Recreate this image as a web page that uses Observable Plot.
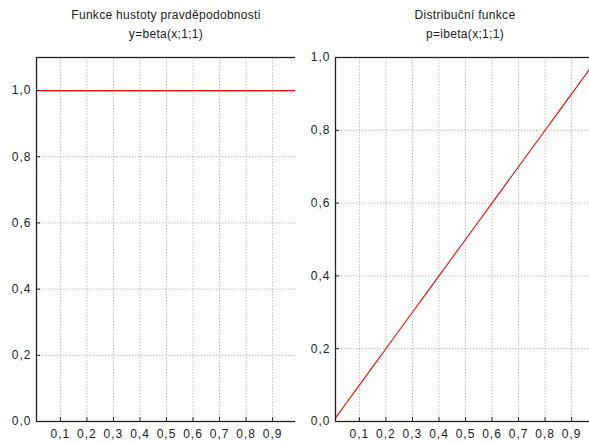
<!DOCTYPE html>
<html>
<head>
<meta charset="utf-8">
<script src="https://cdn.jsdelivr.net/npm/d3@7"></script>
<script src="https://cdn.jsdelivr.net/npm/@observablehq/plot@0.6"></script>
<style>
  html, body { margin: 0; padding: 0; background: #fff; }
  #wrap { position: relative; width: 589px; height: 443px; overflow: hidden; font-family: "Liberation Sans", Arial, sans-serif; color: #222; }
  .title { position: absolute; text-align: center; font-size: 12px; letter-spacing: 0.3px; line-height: 19px; }
  .panel { position: absolute; top: 0; width: 300px; height: 443px; }
  .panel svg { max-width: none !important; }
  .panel svg text { letter-spacing: 1px; }
</style>
</head>
<body>
<div id="wrap"></div>
<script>
// Left panel: density y = beta(x;1;1)
const densityTitle = ["Funkce hustoty pravděpodobnosti", "y=beta(x;1;1)"];
const densityX = [0.01, 0.99];
const densityY = [1.0, 1.0];

// Right panel: distribution p = ibeta(x;1;1)
const cdfTitle = ["Distribuční funkce", "p=ibeta(x;1;1)"];
const cdfX = [0.01, 0.05, 0.10, 0.15, 0.20, 0.25, 0.30, 0.35, 0.40, 0.45, 0.50, 0.55, 0.60, 0.65, 0.70, 0.75, 0.80, 0.85, 0.90, 0.95, 0.99];
const cdfY = [0.01, 0.05, 0.10, 0.15, 0.20, 0.25, 0.30, 0.35, 0.40, 0.45, 0.50, 0.55, 0.60, 0.65, 0.70, 0.75, 0.80, 0.85, 0.90, 0.95, 0.99];

const xTicks = [0.1, 0.2, 0.3, 0.4, 0.5, 0.6, 0.7, 0.8, 0.9];
const yTicks = [0.0, 0.2, 0.4, 0.6, 0.8, 1.0];
const xDomain = [0.01, 0.99];
const densityYDomain = [0, 1.1];
const cdfYDomain = [0, 1.0];

const fmt = d => d.toFixed(1).replace(".", ",");

function panel(xs, ys, yDomain, marginLeft, width) {
  const data = xs.map((x, i) => ({x, y: ys[i]}));
  return Plot.plot({
    width,
    height: 443,
    marginTop: 57,
    marginBottom: 22,
    marginLeft,
    marginRight: width - marginLeft - 260,
    style: {fontFamily: "'Liberation Sans', Arial, sans-serif", fontSize: "12px", color: "#222", background: "white", overflow: "visible", maxWidth: "none"},
    x: {domain: xDomain},
    y: {domain: yDomain},
    marks: [
      Plot.gridX(xTicks, {stroke: "#bdbdbd", strokeOpacity: 1, strokeDasharray: "1.5,1.5"}),
      Plot.gridY(yTicks, {stroke: "#bdbdbd", strokeOpacity: 1, strokeDasharray: "1.5,1.5"}),
      Plot.line(data, {x: "x", y: "y", stroke: "red", strokeWidth: 1.1}),
      Plot.axisX(xTicks, {tickSize: -4, tickPadding: 12, tickFormat: fmt, label: null, stroke: "#222", fontSize: 12}),
      Plot.axisY(yTicks, {tickSize: -4, tickPadding: 9, tickFormat: fmt, label: null, stroke: "#222", fontSize: 12}),
      Plot.frame({stroke: "#222", strokeWidth: 1.3})
    ]
  });
}

const wrap = document.getElementById("wrap");

function addPanel(svg, left) {
  const d = document.createElement("div");
  d.className = "panel";
  d.style.left = left + "px";
  d.appendChild(svg);
  wrap.appendChild(d);
}
function addTitle(lines, center) {
  const t = document.createElement("div");
  t.className = "title";
  t.style.left = (center - 150) + "px";
  t.style.width = "300px";
  t.style.top = "6px";
  t.innerHTML = lines.map(s => `<div>${s}</div>`).join("");
  wrap.appendChild(t);
}

addPanel(panel(densityX, densityY, densityYDomain, 36, 300), 0);
addPanel(panel(cdfX, cdfY, cdfYDomain, 40, 300), 295);
addTitle(densityTitle, 166);
addTitle(cdfTitle, 465);
</script>
</body>
</html>
